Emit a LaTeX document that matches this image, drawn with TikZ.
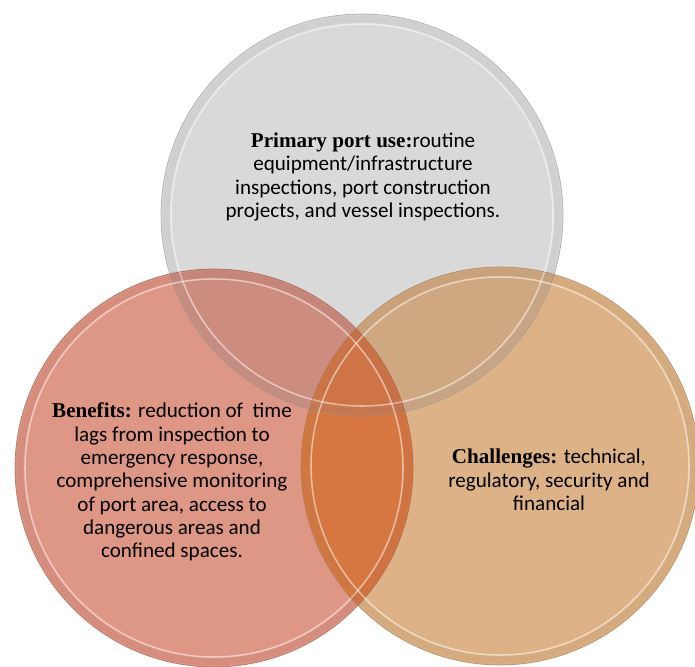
\documentclass[tikz,border=0pt]{standalone}
\usepackage{fontspec}
\setmainfont{Carlito}
\newfontfamily\headfont{Liberation Serif}
\usepackage{tikz}
\usetikzlibrary{positioning}
\usepackage{xcolor}

\definecolor{usefill}{RGB}{217,217,217}
\definecolor{benfill}{RGB}{222,150,133}
\definecolor{chalfill}{RGB}{220,178,134}
\definecolor{useben}{RGB}{204,140,128}
\definecolor{usechal}{RGB}{207,168,130}
\definecolor{benchal}{RGB}{214,119,65}
\definecolor{allthree}{RGB}{207,116,70}
\definecolor{userim}{RGB}{150,150,150}
\definecolor{benrim}{RGB}{160,90,75}
\definecolor{chalrim}{RGB}{165,120,80}

\begin{document}
\begin{tikzpicture}[
    x=0.025cm, y=-0.025cm,
    txt/.style={align=center, font=\fontsize{15}{16.6}\selectfont},
    band/.style={line width=5pt, opacity=0.13},
    shine/.style={line width=1.1pt, white, opacity=0.5},
    edge/.style={line width=0.5pt, opacity=0.7}
  ]
    \useasboundingbox (0,0) rectangle (695,666);
    \fill[white] (0,0) rectangle (695,666);

    \coordinate (use) at (362,215);
    \coordinate (ben) at (214,468);
    \coordinate (chal) at (500,466);

    \fill[usefill] (use) circle[radius=201];
    \fill[benfill] (ben) circle[radius=199];
    \fill[chalfill] (chal) circle[radius=199];

    \begin{scope}
      \clip (use) circle[radius=201];
      \fill[useben] (ben) circle[radius=199];
      \fill[usechal] (chal) circle[radius=199];
    \end{scope}
    \begin{scope}
      \clip (ben) circle[radius=199];
      \fill[benchal] (chal) circle[radius=199];
      \clip (chal) circle[radius=199];
      \fill[allthree] (use) circle[radius=201];
    \end{scope}

    \foreach \c/\r/\k in {use/201/userim, ben/199/benrim, chal/199/chalrim} {
      \draw[band, \k] (\c) circle[radius=\r-5];
      \draw[shine] (\c) circle[radius=\r-10];
      \draw[edge, \k] (\c) circle[radius=\r];
    }

    \node[txt] (usetext) at (363,177)
      {{\headfont\bfseries Primary port use:}routine\\
       equipment/infrastructure\\
       inspections, port construction\\
       projects, and vessel inspections.};
    \node[txt] (bentext) at (172,482)
      {{\headfont\bfseries Benefits:} reduction of\ \ time\\
       lags from inspection to\\
       emergency response,\\
       comprehensive monitoring\\
       of port area, access to\\
       dangerous areas and\\
       confined spaces.};
    \node[txt] (chaltext) at (549,480)
      {{\headfont\bfseries Challenges:} technical,\\
       regulatory, security and\\
       financial};
  \end{tikzpicture}
\end{document}
